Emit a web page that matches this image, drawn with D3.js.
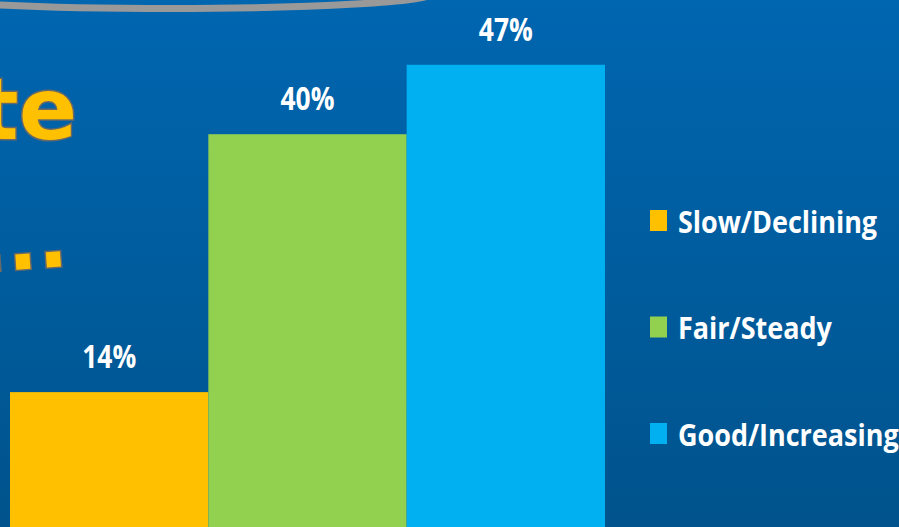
<!DOCTYPE html>
<html>
<head>
<meta charset="utf-8">
<script src="https://cdn.jsdelivr.net/npm/d3@7"></script>
<style>
  html, body { margin: 0; padding: 0; background: #005f9f; }
  svg { display: block; }
</style>
</head>
<body>
<svg id="chart"></svg>
<script>
// data
const categories = ['Slow/Declining', 'Fair/Steady', 'Good/Increasing'];
const values = [14, 40, 47];
const barColors = ['#FFC000', '#92D050', '#00B0F0'];
const labelFormat = d => d + '%';

const config = {
    width: 899,
    height: 527,
    labelSquash: 0.8,   // text looks horizontally compressed in the original
    legendSquash: 0.87
};

const svg = d3.select('#chart')
    .attr('width', config.width)
    .attr('height', config.height);

// background gradient
const defs = svg.append('defs');
const bg = defs.append('linearGradient')
    .attr('id', 'bg')
    .attr('x1', 0).attr('y1', 0)
    .attr('x2', 0).attr('y2', 1);
bg.append('stop').attr('offset', '0%').attr('stop-color', '#0066b0');
bg.append('stop').attr('offset', '100%').attr('stop-color', '#00538c');

svg.append('rect')
    .attr('width', config.width)
    .attr('height', config.height)
    .attr('fill', 'url(#bg)');

// grey arc at the top
svg.append('ellipse')
    .attr('cx', 170)
    .attr('cy', -6.5)
    .attr('rx', 262)
    .attr('ry', 15)
    .attr('fill', 'none')
    .attr('stroke', '#999999')
    .attr('stroke-width', 7);

// partial title (cut off at the left edge)
svg.append('text')
    .attr('x', 77)
    .attr('y', 139)
    .attr('text-anchor', 'end')
    .attr('font-family', 'DejaVu Sans')
    .attr('font-weight', 'bold')
    .attr('font-size', 86)
    .attr('fill', '#FFC000')
    .attr('stroke', '#686868')
    .attr('stroke-width', 3)
    .attr('paint-order', 'stroke')
    .text('te');

svg.append('text')
    .attr('transform', 'translate(69,266) rotate(-4)')
    .attr('text-anchor', 'end')
    .attr('font-family', 'DejaVu Sans')
    .attr('font-weight', 'bold')
    .attr('font-size', 80)
    .attr('fill', '#FFC000')
    .attr('stroke', '#686868')
    .attr('stroke-width', 3)
    .attr('paint-order', 'stroke')
    .text('...');

// scales
const xScale = d3.scaleBand()
    .domain(categories)
    .range([10, 605])
    .padding(0);

const yScale = d3.scaleLinear()
    .domain([0, 50])
    .range([531, 35]);

const colorScale = d3.scaleOrdinal()
    .domain(categories)
    .range(barColors);

const rows = categories.map((c, i) => ({ category: c, value: values[i] }));

const chart = svg.append('g');

chart.selectAll('.bar')
    .data(rows)
    .join('rect')
    .attr('class', 'bar')
    .attr('x', d => xScale(d.category))
    .attr('y', d => yScale(d.value))
    .attr('width', xScale.bandwidth())
    .attr('height', d => yScale(0) - yScale(d.value))
    .attr('fill', d => colorScale(d.category));

chart.selectAll('.bar-label')
    .data(rows)
    .join('text')
    .attr('class', 'bar-label')
    .attr('transform', d => `translate(${xScale(d.category) + xScale.bandwidth() / 2},${yScale(d.value) - 24}) scale(${config.labelSquash},1)`)
    .attr('text-anchor', 'middle')
    .attr('font-family', 'Open Sans')
    .attr('font-weight', 'bold')
    .attr('font-size', 33)
    .attr('fill', '#ffffff')
    .text(d => labelFormat(d.value));

// legend
const legendY = d3.scalePoint()
    .domain(categories)
    .range([220.5, 433.5]);

const legend = svg.append('g')
    .attr('class', 'legend');

const items = legend.selectAll('.legend-item')
    .data(categories)
    .join('g')
    .attr('class', 'legend-item')
    .attr('transform', d => `translate(650,${legendY(d)})`);

items.append('rect')
    .attr('x', 0)
    .attr('y', -10.5)
    .attr('width', 17)
    .attr('height', 21)
    .attr('fill', d => colorScale(d));

items.append('text')
    .attr('transform', `translate(28,12) scale(${config.legendSquash},1)`)
    .attr('font-family', 'Open Sans')
    .attr('font-weight', 'bold')
    .attr('font-size', 31)
    .attr('fill', '#ffffff')
    .text(d => d);
</script>
</body>
</html>
